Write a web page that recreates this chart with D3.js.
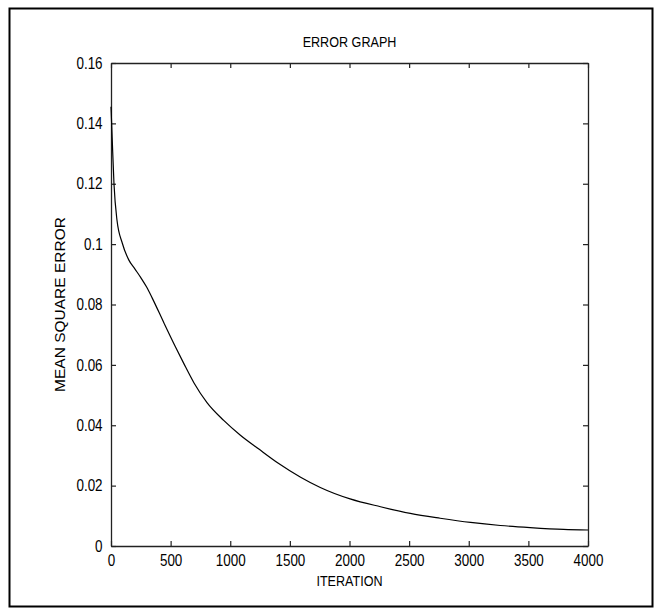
<!DOCTYPE html>
<html>
<head>
<meta charset="utf-8">
<script src="https://cdn.jsdelivr.net/npm/d3@7"></script>
<style>
  body { margin: 0; background: #fff; }
  text { font-family: "Liberation Sans", Arial, sans-serif; fill: #000; }
</style>
</head>
<body>
<svg id="chart" width="660" height="615"></svg>
<script>
// values
const iterations = [0, 10, 25, 50, 95, 150, 200, 250, 300, 345, 445, 540, 610, 695, 805, 945, 1085, 1240, 1400, 1590, 1755, 2005, 2260, 2510, 2760, 3015, 3265, 3515, 3795, 4000];
const mse = [0.1455, 0.135, 0.12, 0.108, 0.1003, 0.0947, 0.0918, 0.0889, 0.0857, 0.0822, 0.0738, 0.066, 0.0605, 0.0541, 0.0475, 0.0416, 0.0367, 0.0321, 0.0275, 0.0228, 0.0194, 0.0156, 0.0130, 0.0108, 0.0092, 0.0078, 0.0068, 0.0061, 0.0055, 0.0053];
const xTicks = [0, 500, 1000, 1500, 2000, 2500, 3000, 3500, 4000];
const yTicks = [0, 0.02, 0.04, 0.06, 0.08, 0.1, 0.12, 0.14, 0.16];

const svg = d3.select("#chart");
const margin = { top: 63, right: 72, bottom: 69, left: 111 };
const width = 660 - margin.left - margin.right;
const height = 615 - margin.top - margin.bottom;
const squeeze = "scale(0.84,1)";

// outer frame
svg.append("rect")
    .attr("x", 9.5).attr("y", 8.5)
    .attr("width", 643).attr("height", 598)
    .attr("fill", "none")
    .attr("stroke", "#000")
    .attr("stroke-width", 2);

const g = svg.append("g")
    .attr("transform", `translate(${margin.left},${margin.top})`);

const x = d3.scaleLinear().domain([0, 4000]).range([0, width]);
const y = d3.scaleLinear().domain([0, 0.16]).range([height, 0]);

const fmt = d => d === 0 ? "0" : String(+d.toFixed(2));

// axes with inward ticks, box style
const styleAxis = sel => {
    sel.select(".domain").attr("stroke", "#222").attr("stroke-width", 1.3).attr("fill", "none");
    sel.selectAll(".tick line").attr("stroke", "#222").attr("stroke-width", 1.2);
    sel.selectAll("text").attr("font-size", 16).attr("fill", "#000").attr("transform", squeeze);
};

g.append("g")
    .attr("transform", `translate(0,${height})`)
    .call(d3.axisBottom(x).tickValues(xTicks).tickSize(-5).tickSizeOuter(0).tickPadding(9).tickFormat(d3.format("d")))
    .call(styleAxis);

g.append("g")
    .call(d3.axisTop(x).tickValues(xTicks).tickSize(-5).tickSizeOuter(0).tickFormat(""))
    .call(styleAxis);

g.append("g")
    .call(d3.axisLeft(y).tickValues(yTicks).tickSize(-5).tickSizeOuter(0).tickPadding(10).tickFormat(fmt))
    .call(styleAxis);

g.append("g")
    .attr("transform", `translate(${width},0)`)
    .call(d3.axisRight(y).tickValues(yTicks).tickSize(-5).tickSizeOuter(0).tickFormat(""))
    .call(styleAxis);

const line = d3.line()
    .x((d, i) => x(iterations[i]))
    .y(d => y(d))
    .curve(d3.curveMonotoneX);

g.append("path")
    .datum(mse)
    .attr("fill", "none")
    .attr("stroke", "#000")
    .attr("stroke-width", 1.2)
    .attr("d", line);

// labels
const cx = margin.left + width / 2;
svg.append("text")
    .attr("transform", `translate(${cx},47) ${squeeze}`)
    .attr("text-anchor", "middle")
    .attr("font-size", 15)
    .text("ERROR GRAPH");

svg.append("text")
    .attr("transform", `translate(${cx},586) ${squeeze}`)
    .attr("text-anchor", "middle")
    .attr("font-size", 15)
    .text("ITERATION");

svg.append("text")
    .attr("transform", `translate(65,${margin.top + height / 2}) rotate(-90)`)
    .attr("text-anchor", "middle")
    .attr("font-size", 15.5)
    .text("MEAN SQUARE ERROR");
</script>
</body>
</html>
